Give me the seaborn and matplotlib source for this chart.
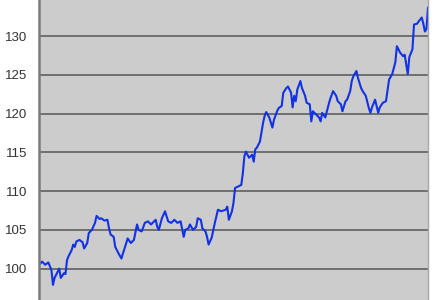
import matplotlib
matplotlib.use("Agg")
import matplotlib.pyplot as plt
import matplotlib.transforms as mtransforms
import seaborn as sns
import pandas as pd

# trading-day index (x axis has no labels)
days = [0, 2, 4, 6, 8, 9, 10, 12, 13, 14, 16, 17, 18, 19, 21, 22, 23, 24, 26, 28,
        29, 31, 32, 34, 36, 37, 39, 40, 42, 44, 45, 46, 48, 49, 51, 53, 54, 55, 57, 59,
        61, 63, 64, 66, 68, 70, 72, 75, 76, 77, 79, 81, 83, 85, 87, 89, 91, 93, 94, 96,
        97, 99, 101, 102, 104, 105, 107, 108, 109, 111, 113, 115, 117, 120, 121, 122, 124, 125, 126, 128,
        130, 131, 132, 133, 135, 137, 138, 139, 140, 142, 144, 145, 146, 148, 150, 151, 153, 154, 156, 157,
        159, 160, 162, 163, 164, 165, 166, 168, 169, 171, 172, 174, 175, 176, 178, 180, 181, 182, 184, 185,
        187, 189, 191, 192, 194, 195, 197, 198, 200, 201, 202, 204, 205, 207, 208, 210, 212, 213, 214, 216,
        218, 219, 221, 223, 225, 227, 229, 230, 232, 234, 235, 237, 238, 240, 241, 243, 244, 246, 247, 248,
        249, 250]
values = [100.5, 100.9, 100.5, 100.8, 99.8, 97.9, 98.8, 99.6, 100.0, 98.8, 99.4, 99.3, 101.1, 101.6, 102.4, 103.1, 102.8, 103.5, 103.7, 103.4,
          102.6, 103.3, 104.6, 105.0, 105.9, 106.8, 106.4, 106.5, 106.2, 106.3, 105.2, 104.4, 104.1, 102.8, 102.0, 101.3, 102.0, 102.6, 103.9, 103.3,
          103.7, 105.7, 105.0, 104.8, 105.9, 106.1, 105.7, 106.3, 105.4, 105.0, 106.5, 107.4, 106.1, 105.9, 106.3, 105.9, 106.1, 104.1, 105.0, 105.2,
          105.7, 105.0, 105.4, 106.5, 106.3, 105.2, 104.8, 104.1, 103.1, 104.0, 105.9, 107.6, 107.4, 107.6, 108.0, 106.3, 107.4, 108.5, 110.4, 110.6,
          110.8, 112.3, 114.5, 115.1, 114.3, 114.7, 113.8, 115.4, 115.6, 116.4, 118.8, 119.7, 120.2, 119.5, 118.2, 119.2, 120.3, 120.7, 121.0, 122.7,
          123.3, 123.5, 122.7, 120.8, 122.3, 121.6, 123.1, 124.2, 123.3, 122.3, 121.4, 121.2, 119.0, 120.3, 119.9, 119.5, 119.0, 120.1, 119.5, 120.3,
          121.8, 122.9, 122.3, 121.6, 121.2, 120.3, 121.6, 121.8, 122.9, 124.2, 124.8, 125.5, 124.6, 123.3, 122.9, 122.3, 120.7, 120.1, 120.8, 121.8,
          120.1, 120.8, 121.4, 121.6, 124.4, 125.1, 126.6, 128.7, 127.9, 127.4, 127.6, 125.1, 127.3, 128.3, 131.5, 131.6, 131.9, 132.4, 131.6, 130.6,
          130.9, 133.7]
y_ticks = [100, 105, 110, 115, 120, 125, 130]
top_label = 135  # tick label only partly visible at the top edge

df = pd.DataFrame({"day": days, "value": values})

sns.set_style("white")
plt.rcParams["font.family"] = ["Liberation Sans", "DejaVu Sans"]

fig = plt.figure(figsize=(4.4, 3.0), dpi=100)
fig.patch.set_facecolor("white")
ax = fig.add_axes([39 / 440, 0.0, (428 - 39) / 440, 1.0])
ax.set_facecolor("#cccccc")

sns.lineplot(data=df, x="day", y="value", ax=ax, color="#1232e6", linewidth=1.5)

ax.set_xlim(0, 250)
ax.set_ylim(95.95, 134.66)
ax.set_yticks(y_ticks)
ax.set_yticklabels([str(t) for t in y_ticks], fontsize=9.5, color="#333333")
ax.tick_params(axis="y", length=3, width=1.2, color="#5f5f5f", pad=5.5, direction="out")
ax.set_xticks([])
ax.set_xlabel("")
ax.set_ylabel("")
ax.yaxis.grid(True, color="#5f5f5f", linewidth=1.2)
ax.set_axisbelow(True)

for s in ["top", "bottom"]:
    ax.spines[s].set_visible(False)
ax.spines["left"].set_color("#7a7a7a")
ax.spines["left"].set_linewidth(1.8)
ax.spines["right"].set_color("#a8a8a8")
ax.spines["right"].set_linewidth(1.0)

# partially visible top label (cut by the frame edge)
trans = mtransforms.blended_transform_factory(ax.transAxes, ax.transData)
ax.text(-0.0283, top_label, str(top_label), transform=trans, ha="right", va="center",
        fontsize=9.5, color="#333333", clip_on=False)

fig.savefig("out.png", dpi=100)
